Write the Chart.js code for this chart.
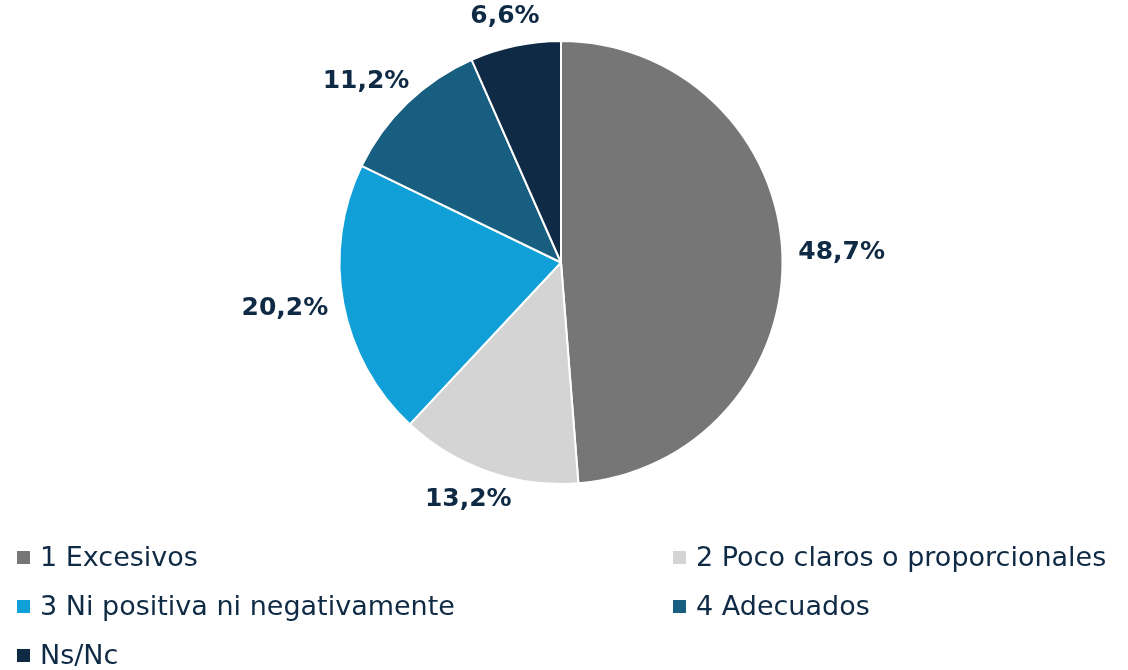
<!DOCTYPE html>
<html>
<head>
<meta charset="utf-8">
<script src="https://cdn.jsdelivr.net/npm/chart.js@4"></script>
<style>
  body { margin: 0; background: #fff; }
  #wrap { position: relative; width: 1128px; height: 670px; }
  #chartBox { position: absolute; left: 0; top: 0; width: 1128px; height: 530px; }
  #legend { position: absolute; left: 0; top: 0; width: 1128px; height: 670px; pointer-events: none; }
  .item { position: absolute; font-family: "DejaVu Sans", Arial, sans-serif; font-size: 27px; color: #0F2A44; line-height: 30px; white-space: nowrap; }
  .item span { display: inline-block; width: 13px; height: 13px; margin-right: 10px; vertical-align: 2px; }
</style>
</head>
<body>
<div id="wrap">
  <div id="chartBox"><canvas id="pieChartCanvas"></canvas></div>
  <div id="legend"></div>
</div>
<script>
// data
const categories = ['1 Excesivos', '2 Poco claros o proporcionales', '3 Ni positiva ni negativamente', '4 Adecuados', 'Ns/Nc'];
const values = [48.7, 13.2, 20.2, 11.2, 6.6];
const colors = ['#767676', '#D4D4D4', '#119FD7', '#175E80', '#0F2A44'];

// percent labels outside each slice
let outsideLabels = {
  id: 'outsideLabels',
  afterDatasetsDraw: function (chart) {
    let ctx = chart.ctx;
    let meta = chart.getDatasetMeta(0);
    ctx.save();
    ctx.font = 'bold 25px "DejaVu Sans", Arial, sans-serif';
    ctx.fillStyle = '#0F2A44';
    ctx.textAlign = 'center';
    ctx.textBaseline = 'middle';
    meta.data.forEach(function (arc, i) {
      let mid = (arc.startAngle + arc.endAngle) / 2;
      let dx = Math.cos(mid), dy = Math.sin(mid);
      let text = values[i].toFixed(1).replace('.', ',') + '%';
      let w = ctx.measureText(text).width;
      let r = arc.outerRadius + 16;
      let x = arc.x + dx * r + dx * w / 2;
      let y = arc.y + dy * r + dy * 14;
      ctx.fillText(text, x, y);
    });
    ctx.restore();
  }
};

let ctx = document.getElementById('pieChartCanvas').getContext('2d');
window.pieChart = new Chart(ctx, {
  type: 'pie',
  data: {
    labels: categories,
    datasets: [{
      data: values,
      backgroundColor: colors,
      borderColor: '#ffffff',
      borderWidth: 2
    }]
  },
  options: {
    responsive: true,
    maintainAspectRatio: false,
    animation: false,
    layout: { padding: { top: 40, bottom: 45, left: 0, right: 6 } },
    plugins: {
      legend: { display: false },
      tooltip: { enabled: false }
    }
  },
  plugins: [outsideLabels]
});

// two-column legend under the pie
let legendPos = [[17, 542], [673, 542], [17, 591], [673, 591], [17, 640]];
let legendDiv = document.getElementById('legend');
categories.forEach(function (label, i) {
  let d = document.createElement('div');
  d.className = 'item';
  d.style.left = legendPos[i][0] + 'px';
  d.style.top = legendPos[i][1] + 'px';
  d.innerHTML = `<span style="background-color: ${colors[i]}"></span>${label}`;
  legendDiv.appendChild(d);
});
</script>
</body>
</html>
